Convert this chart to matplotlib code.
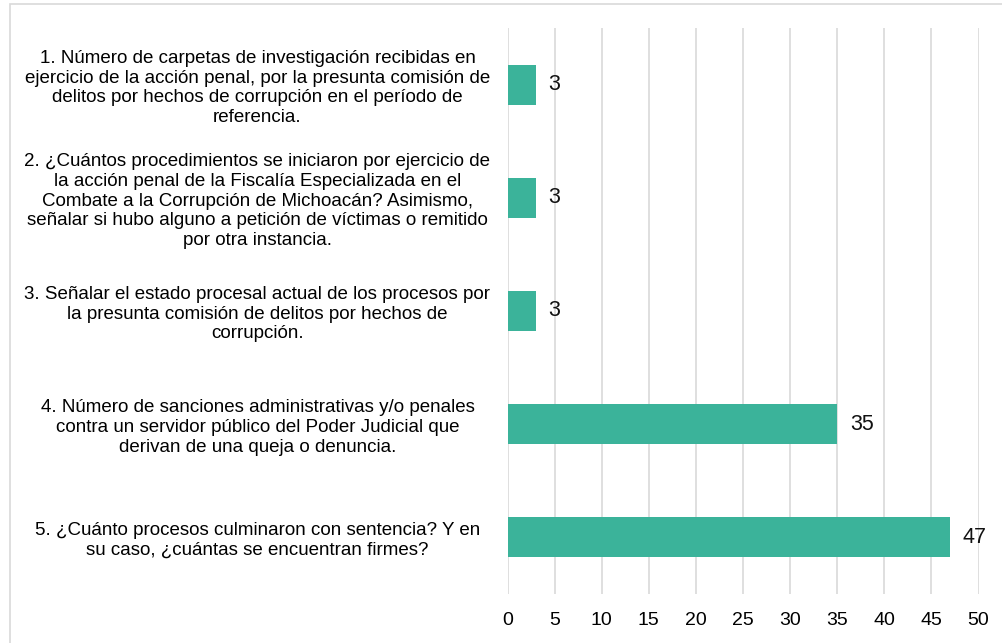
import matplotlib
matplotlib.use("Agg")
import matplotlib.pyplot as plt
from matplotlib.patches import Rectangle

categories = [
    "1. Número de carpetas de investigación recibidas en\nejercicio de la acción penal, por la presunta comisión de\ndelitos por hechos de corrupción en el período de\nreferencia.",
    "2. ¿Cuántos procedimientos se iniciaron por ejercicio de\nla acción penal de la Fiscalía Especializada en el\nCombate a la Corrupción de Michoacán? Asimismo,\nseñalar si hubo alguno a petición de víctimas o remitido\npor otra instancia.",
    "3. Señalar el estado procesal actual de los procesos por\nla presunta comisión de delitos por hechos de\ncorrupción.",
    "4. Número de sanciones administrativas y/o penales\ncontra un servidor público del Poder Judicial que\nderivan de una queja o denuncia.",
    "5. ¿Cuánto procesos culminaron con sentencia? Y en\nsu caso, ¿cuántas se encuentran firmes?",
]
values = [3, 3, 3, 35, 47]
xticks = [0, 5, 10, 15, 20, 25, 30, 35, 40, 45, 50]

plt.rcParams['font.family'] = ['Liberation Sans', 'DejaVu Sans']

W, H = 1002, 643
fig = plt.figure(figsize=(W / 100, H / 100), dpi=100)
ax = fig.add_axes([507.5 / W, 1 - 594 / H, (978.5 - 507.5) / W, (594 - 28) / H])

# figure border
fig.patches.append(Rectangle((10 / W, -0.01), 1.02, 1 - 4 / H + 0.01, transform=fig.transFigure,
                             fill=False, edgecolor='#d9d9d9', linewidth=1.2, zorder=0))

ypos = list(range(len(categories)))
ax.barh(ypos, values, height=0.355, color='#3bb39a', zorder=3)
for y, v in zip(ypos, values):
    ax.text(v + 1.35, y, str(v), va='center', ha='left', fontsize=15.5, color='#111111')

ax.set_xlim(0, 50)
ax.set_ylim(len(categories) - 0.5, -0.5)
ax.set_xticks(xticks)
ax.set_xticklabels([str(t) for t in xticks])
ax.set_yticks(ypos)
ax.set_yticklabels(categories, ha='center', multialignment='center', fontsize=13.5, linespacing=1.2)
ax.tick_params(axis='y', length=0, pad=(507.5 - 257.5) * 0.72)
ax.tick_params(axis='x', length=0, pad=13, labelsize=14)
ax.grid(axis='x', color='#d9d9d9', linewidth=1.2, zorder=0)
ax.set_axisbelow(True)
for s in ax.spines.values():
    s.set_visible(False)

fig.savefig('out.png', dpi=100)
